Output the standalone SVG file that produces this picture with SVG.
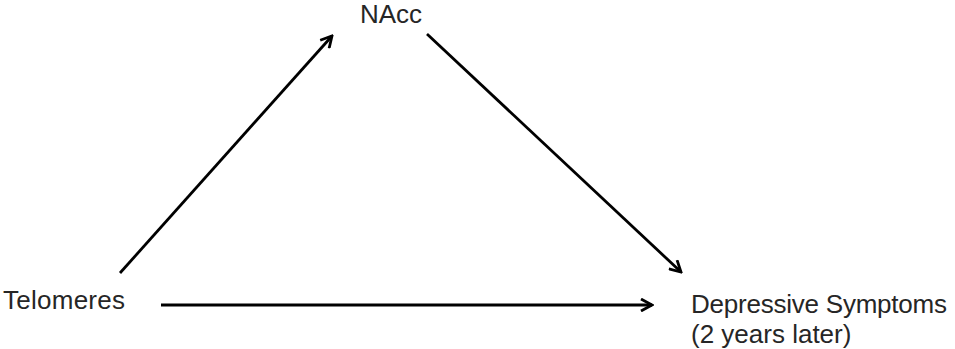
<svg xmlns="http://www.w3.org/2000/svg" width="955" height="349" viewBox="0 0 955 349">
<style>
.lbl{font-family:"Liberation Sans",Arial,sans-serif;font-size:26px;fill:#262626}
.edge{stroke:#000;stroke-width:2.8;fill:none;marker-end:url(#ah)}
</style>
<defs>
<marker id="ah" viewBox="0 0 14 14" markerWidth="14" markerHeight="14" refX="12" refY="7" orient="auto" markerUnits="userSpaceOnUse">
<polyline points="1,1 12,7 1,13" fill="none" stroke="#000" stroke-width="2.8" stroke-linejoin="miter"/>
</marker>
</defs>
<rect width="955" height="349" fill="#fff"/>
<g id="connectors">
<line class="edge" x1="120" y1="273" x2="332" y2="36"/>
<line class="edge" x1="427" y1="34" x2="681" y2="272"/>
<line class="edge" x1="161" y1="305" x2="652" y2="305"/>
</g>
<g id="nacc"><text class="lbl" x="360" y="23">NAcc</text></g>
<g id="telomeres"><text class="lbl" x="3" y="309" textLength="122">Telomeres</text></g>
<g id="depressive"><text class="lbl" x="691" y="313" textLength="256">Depressive Symptoms</text><text class="lbl" x="691" y="343">(2 years later)</text></g>
</svg>
